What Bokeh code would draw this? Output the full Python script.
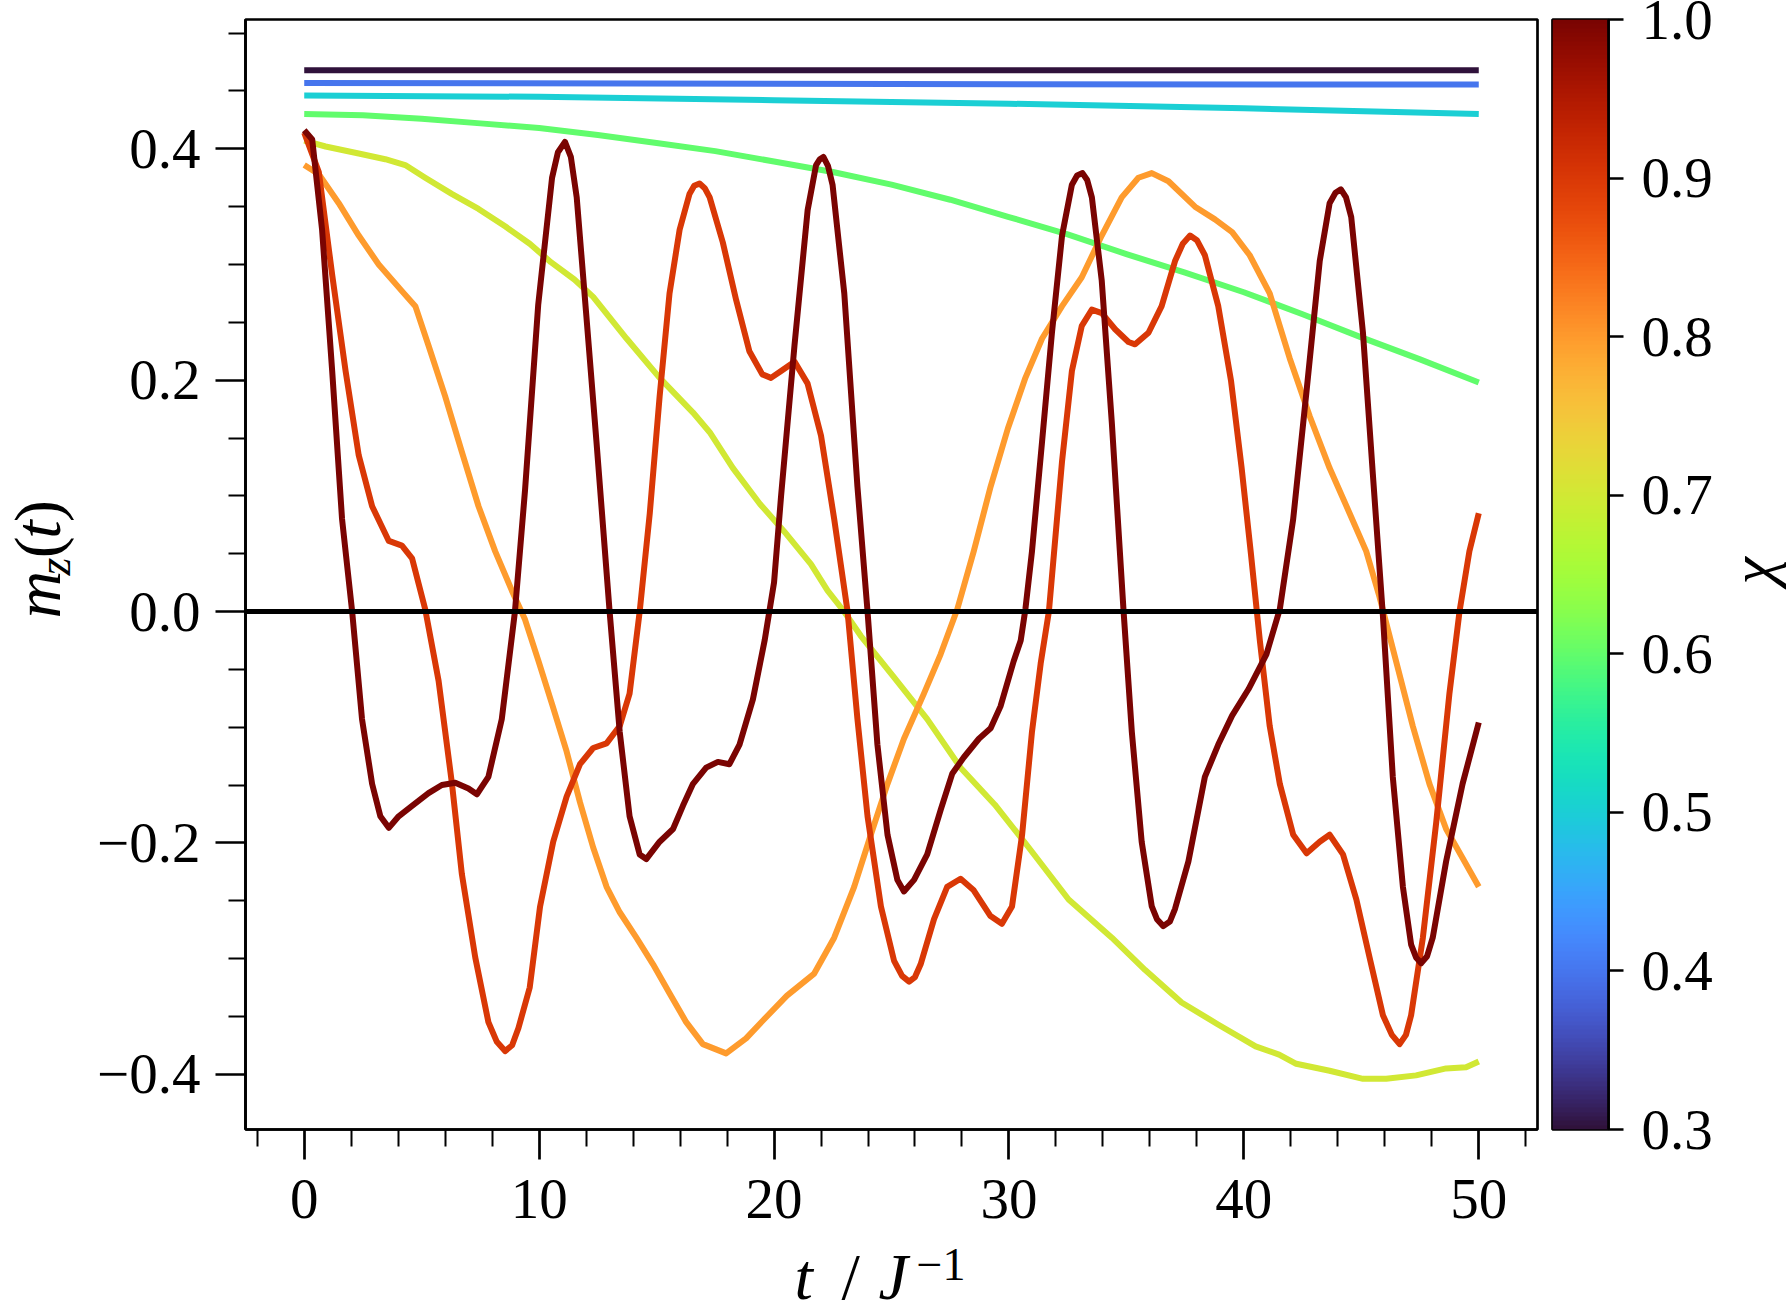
import math
import numpy as np
from bokeh.plotting import figure
from bokeh.layouts import row, column
from bokeh.models import (ColumnDataSource, LinearColorMapper, FixedTicker,
                          PrintfTickFormatter, Span, Range1d)
from bokeh.core.properties import value
from bokeh.palettes import Turbo256
from bokeh.embed import file_html
from bokeh.resources import INLINE

# ---------------- data ----------------
CHI = [0.3, 0.4, 0.5, 0.6, 0.7, 0.8, 0.9, 1.0]

T_03 = [0, 50]
M_03 = [0.468, 0.468]

T_04 = [0, 25, 50]
M_04 = [0.457, 0.456, 0.4555]

T_05 = [0, 10, 20, 30, 40, 50]
M_05 = [0.446, 0.445, 0.442, 0.439, 0.435, 0.430]

T_06 = [0, 2.5, 5, 7.5, 10, 12.5, 15, 17.5, 20, 22.5, 25, 27.5, 30, 32.5, 35,
        37.5, 40, 42.5, 45, 47.5, 50]
M_06 = [0.430, 0.429, 0.426, 0.422, 0.418, 0.412, 0.405, 0.398, 0.389, 0.380,
        0.369, 0.356, 0.341, 0.326, 0.309, 0.293, 0.276, 0.257, 0.237, 0.218, 0.198]

T_07 = [0, 0.91, 2.32, 3.45, 4.3, 5.15, 6.28, 7.42, 8.55, 9.6, 10.5, 11.5, 12.3,
        13.72, 15.13, 16.55, 17.26, 18.25, 19.4, 20.44, 21.57, 22.28, 22.98, 23.69,
        25.11, 26.52, 27.94, 29.4, 30.84, 32.54, 34.38, 35.8, 37.35, 38.9, 40.5,
        41.5, 42.23, 43.65, 45.07, 46.06, 47.33, 48.61, 49.46, 50.0]
M_07 = [0.407, 0.402, 0.396, 0.391, 0.386, 0.375, 0.361, 0.348, 0.333, 0.318,
        0.302, 0.287, 0.272, 0.236, 0.202, 0.172, 0.155, 0.124, 0.093, 0.069,
        0.041, 0.018, 0.0, -0.021, -0.057, -0.093, -0.135, -0.167, -0.204, -0.249,
        -0.282, -0.310, -0.338, -0.357, -0.376, -0.383, -0.391, -0.397, -0.404,
        -0.404, -0.401, -0.395, -0.394, -0.389]

T_08 = [0, 0.62, 1.47, 2.32, 3.17, 4.16, 4.73, 5.29, 6.0, 6.71, 7.42, 8.13, 8.84,
        9.4, 9.96, 10.55, 11.17, 11.74, 12.3, 12.87, 13.43, 14.14, 14.85, 15.55,
        16.26, 16.97, 17.96, 18.81, 19.6, 20.55, 21.71, 22.56, 23.41, 24.12, 24.83,
        25.53, 26.38, 27.09, 27.8, 28.5, 29.22, 29.95, 30.7, 31.41, 32.26, 33.1,
        33.95, 34.8, 35.51, 36.08, 36.79, 37.92, 38.77, 39.5, 40.25, 41.1, 41.95,
        42.8, 43.65, 44.5, 45.21, 45.77, 46.48, 47.19, 47.9, 48.61, 49.31, 50.0]
M_08 = [0.386, 0.378, 0.353, 0.325, 0.300, 0.277, 0.264, 0.230, 0.186, 0.138,
        0.091, 0.052, 0.018, -0.007, -0.042, -0.080, -0.121, -0.165, -0.204,
        -0.238, -0.260, -0.282, -0.305, -0.330, -0.355, -0.374, -0.382, -0.369,
        -0.352, -0.332, -0.313, -0.282, -0.238, -0.193, -0.149, -0.110, -0.071,
        -0.037, 0.002, 0.052, 0.108, 0.158, 0.202, 0.236, 0.264, 0.289, 0.325,
        0.358, 0.375, 0.379, 0.372, 0.350, 0.339, 0.328, 0.308, 0.275, 0.219,
        0.169, 0.124, 0.085, 0.052, 0.013, -0.043, -0.099, -0.149, -0.188,
        -0.213, -0.238]

T_09 = [0, 0.62, 1.19, 1.76, 2.32, 2.89, 3.6, 4.16, 4.59, 5.15, 5.72, 6.29, 6.71,
        7.28, 7.84, 8.2, 8.55, 8.85, 9.12, 9.6, 10.04, 10.6, 11.17, 11.74, 12.3,
        12.87, 13.43, 13.85, 14.28, 14.71, 15.13, 15.55, 15.98, 16.4, 16.6, 16.83,
        17.05, 17.26, 17.82, 18.39, 18.95, 19.5, 19.87, 20.3, 20.87, 21.43, 22.0,
        22.56, 23.13, 23.55, 23.98, 24.55, 25.11, 25.45, 25.75, 26.0, 26.24, 26.81,
        27.37, 27.94, 28.5, 29.2, 29.7, 30.13, 30.56, 30.98, 31.35, 31.7, 32.26,
        32.68, 33.1, 33.53, 33.95, 34.52, 35.09, 35.37, 35.94, 36.5, 37.07, 37.4,
        37.71, 38.0, 38.34, 38.91, 39.45, 39.9, 40.3, 40.68, 41.1, 41.53, 42.1,
        42.67, 43.23, 43.65, 44.22, 44.79, 45.35, 45.92, 46.3, 46.63, 46.9, 47.12,
        47.62, 48.19, 48.75, 49.18, 49.6, 50.0]
M_09 = [0.414, 0.380, 0.291, 0.208, 0.135, 0.091, 0.061, 0.057, 0.046, 0.002,
        -0.060, -0.149, -0.227, -0.299, -0.355, -0.372, -0.380, -0.375, -0.360,
        -0.325, -0.255, -0.199, -0.160, -0.132, -0.118, -0.114, -0.099, -0.071,
        0.0, 0.085, 0.186, 0.275, 0.330, 0.361, 0.368, 0.370, 0.366, 0.358, 0.319,
        0.269, 0.225, 0.205, 0.202, 0.208, 0.216, 0.197, 0.152, 0.080, 0.0, -0.093,
        -0.177, -0.255, -0.302, -0.315, -0.320, -0.316, -0.305, -0.266, -0.238,
        -0.231, -0.241, -0.263, -0.270, -0.255, -0.193, -0.104, -0.045, 0.0, 0.130,
        0.208, 0.247, 0.261, 0.258, 0.244, 0.233, 0.231, 0.241, 0.264, 0.303,
        0.318, 0.325, 0.321, 0.308, 0.264, 0.200, 0.125, 0.050, -0.025, -0.099,
        -0.149, -0.193, -0.209, -0.199, -0.193, -0.210, -0.249, -0.299, -0.349,
        -0.366, -0.374, -0.366, -0.349, -0.282, -0.182, -0.071, 0.0, 0.052, 0.085]

T_10 = [0, 0.34, 0.76, 1.19, 1.61, 2.04, 2.46, 2.89, 3.24, 3.6, 4.02, 4.59, 5.29,
        5.86, 6.43, 6.99, 7.35, 7.84, 8.41, 8.97, 9.4, 9.96, 10.55, 10.8, 11.1,
        11.35, 11.6, 12.0, 12.44, 13.0, 13.43, 13.85, 14.28, 14.56, 15.13, 15.7,
        16.12, 16.55, 17.11, 17.61, 18.1, 18.53, 19.1, 19.6, 20.0, 20.3, 20.87,
        21.43, 21.79, 21.95, 22.1, 22.3, 22.49, 22.99, 23.55, 23.98, 24.4, 24.83,
        25.25, 25.53, 25.96, 26.52, 27.1, 27.59, 28.08, 28.72, 29.22, 29.64, 30.2,
        30.5, 30.7, 30.98, 31.41, 31.83, 32.26, 32.68, 32.9, 33.13, 33.33, 33.53,
        33.95, 34.38, 34.88, 35.23, 35.65, 36.08, 36.3, 36.57, 36.85, 37.07, 37.64,
        38.34, 38.91, 39.5, 40.2, 40.96, 41.53, 42.1, 42.67, 43.23, 43.65, 43.9,
        44.13, 44.35, 44.57, 45.07, 45.49, 45.92, 46.34, 46.77, 47.12, 47.33, 47.55,
        47.8, 48.04, 48.61, 49.31, 50.0]
M_10 = [0.416, 0.408, 0.330, 0.208, 0.080, 0.0, -0.093, -0.149, -0.177, -0.187,
        -0.177, -0.168, -0.157, -0.150, -0.148, -0.153, -0.158, -0.143, -0.093, 0.0,
        0.105, 0.265, 0.375, 0.397, 0.406, 0.393, 0.358, 0.258, 0.147, 0.0, -0.104,
        -0.177, -0.210, -0.214, -0.199, -0.188, -0.168, -0.149, -0.135, -0.130,
        -0.132, -0.115, -0.076, -0.025, 0.025, 0.100, 0.230, 0.347, 0.386, 0.391,
        0.393, 0.385, 0.369, 0.275, 0.108, 0.0, -0.115, -0.193, -0.232, -0.242,
        -0.232, -0.210, -0.171, -0.140, -0.126, -0.110, -0.101, -0.082, -0.043,
        -0.025, 0.002, 0.052, 0.147, 0.241, 0.325, 0.369, 0.377, 0.379, 0.373,
        0.358, 0.286, 0.163, 0.0, -0.104, -0.199, -0.255, -0.266, -0.272, -0.268,
        -0.257, -0.216, -0.143, -0.115, -0.090, -0.067, -0.037, 0.002, 0.080, 0.191,
        0.303, 0.353, 0.362, 0.365, 0.358, 0.341, 0.241, 0.119, -0.004, -0.143,
        -0.238, -0.288, -0.299, -0.304, -0.298, -0.282, -0.216, -0.149, -0.096]

T_SERIES = [T_03, T_04, T_05, T_06, T_07, T_08, T_09, T_10]
M_SERIES = [M_03, M_04, M_05, M_06, M_07, M_08, M_09, M_10]

X_TICKS = [0, 10, 20, 30, 40, 50]
X_MINOR = [-2, 2, 4, 6, 8, 12, 14, 16, 18, 22, 24, 26, 28, 32, 34, 36, 38,
           42, 44, 46, 48, 52]
Y_TICKS = [-0.4, -0.2, 0.0, 0.2, 0.4]
Y_MINOR = [-0.35, -0.3, -0.25, -0.15, -0.1, -0.05, 0.05, 0.1, 0.15, 0.25, 0.3,
           0.35, 0.45, 0.5]
CB_TICKS = [0.3, 0.4, 0.5, 0.6, 0.7, 0.8, 0.9, 1.0]
CHI_LOW, CHI_HIGH = 0.3, 1.0

# ---------------- layout constants (canvas pixels) ----------------
FONT = "Liberation Serif"
W, H = 1787, 1313
TOP_H = 1238          # height of the upper row
LEFT_W = 80           # y-label strip
MAIN_W = 1460         # main plot (canvas x 80..1540)
CB_W = 175            # colour bar (canvas x 1540..1715)
RIGHT_W = W - LEFT_W - MAIN_W - CB_W   # chi label strip (1715..1787)


def bare(width, height, xr, yr):
    f = figure(width=width, height=height, x_range=xr, y_range=yr,
               output_backend="svg", toolbar_location=None,
               x_axis_location=None, y_axis_location=None,
               min_border=0)
    f.outline_line_color = None
    f.xgrid.visible = False
    f.ygrid.visible = False
    f.background_fill_color = "white"
    f.border_fill_color = "white"
    return f


def txt(f, x, y, s, size, italic=True, angle=0.0, align="left"):
    # anchor = vertical middle of the text line
    f.text(x=[x], y=[y], text=[s], angle=angle,
           text_font=value(FONT), text_font_size=value(size),
           text_font_style="italic" if italic else "normal",
           text_color="black", text_align=align, text_baseline="middle")


# ---------------- main plot ----------------
p = figure(width=MAIN_W, height=TOP_H,
           x_range=Range1d(-2.5, 52.5), y_range=Range1d(-0.4478, 0.5118),
           output_backend="svg", toolbar_location=None,
           min_border_left=165, min_border_right=3,
           min_border_top=19, min_border_bottom=TOP_H - 1129)
p.background_fill_color = "white"
p.border_fill_color = "white"
p.outline_line_color = "black"
p.outline_line_width = 2.7
p.xgrid.visible = False
p.ygrid.visible = False

mapper = LinearColorMapper(palette=Turbo256, low=CHI_LOW, high=CHI_HIGH)
src = ColumnDataSource(dict(xs=T_SERIES, ys=M_SERIES, chi=CHI))
p.multi_line("xs", "ys", source=src,
             line_color={"field": "chi", "transform": mapper}, line_width=6,
             line_join="round")

p.add_layout(Span(location=0, dimension="width", line_color="black", line_width=5))

for ax in (p.xaxis[0], p.yaxis[0]):
    ax.axis_line_color = "black"
    ax.axis_line_width = 2.7
    ax.major_tick_out = 30
    ax.major_tick_in = 0
    ax.minor_tick_out = 17
    ax.minor_tick_in = 0
    ax.major_tick_line_width = 2.7
    ax.minor_tick_line_width = 2
    ax.major_tick_line_color = "black"
    ax.minor_tick_line_color = "black"
    ax.major_label_text_font = FONT
    ax.major_label_text_font_size = "57px"
    ax.major_label_text_color = "black"

p.xaxis.ticker = FixedTicker(ticks=X_TICKS, minor_ticks=X_MINOR)
p.yaxis.ticker = FixedTicker(ticks=Y_TICKS, minor_ticks=Y_MINOR)
p.yaxis.formatter = PrintfTickFormatter(format="%.1f")
p.yaxis.major_label_overrides = {-0.4: "\u22120.4", -0.2: "\u22120.2"}
p.xaxis.major_label_standoff = 20
p.yaxis.major_label_standoff = 15

# ---------------- colour bar (its own small plot) ----------------
pc = figure(width=CB_W, height=TOP_H, x_range=Range1d(0, 1),
            y_range=Range1d(CHI_LOW, CHI_HIGH),
            output_backend="svg", toolbar_location=None,
            x_axis_location=None, y_axis_location="right",
            min_border_left=12, min_border_right=CB_W - 12 - 57,
            min_border_top=19, min_border_bottom=TOP_H - 1129)
pc.background_fill_color = "white"
pc.border_fill_color = "white"
pc.outline_line_color = "black"
pc.outline_line_width = 2.7
pc.xgrid.visible = False
pc.ygrid.visible = False
grad = np.linspace(CHI_LOW, CHI_HIGH, 256).reshape(-1, 1)
pc.image(image=[grad], x=0, y=CHI_LOW, dw=1, dh=CHI_HIGH - CHI_LOW,
         color_mapper=mapper)
cax = pc.yaxis[0]
cax.ticker = FixedTicker(ticks=CB_TICKS)
cax.formatter = PrintfTickFormatter(format="%.1f")
cax.axis_line_color = "black"
cax.axis_line_width = 2.7
cax.major_tick_out = 15
cax.major_tick_in = 0
cax.major_tick_line_width = 2.7
cax.major_tick_line_color = "black"
cax.minor_tick_line_color = None
cax.major_label_text_font = FONT
cax.major_label_text_font_size = "57px"
cax.major_label_text_color = "black"
cax.major_label_standoff = 18

# ---------------- axis-label strips (coordinates = canvas pixels) ----------------
R = math.pi / 2
pl = bare(LEFT_W, TOP_H, Range1d(0, LEFT_W), Range1d(TOP_H, 0))
txt(pl, 37, 668, "m", "66px", True, R)
txt(pl, 53.5, 620, "z", "46px", True, R)
txt(pl, 37, 601, "(", "66px", False, R)
txt(pl, 37, 579, "t", "66px", True, R)
txt(pl, 37, 560.5, ")", "66px", False, R)

x0r = LEFT_W + MAIN_W + CB_W
pr = bare(RIGHT_W, TOP_H, Range1d(x0r, W), Range1d(TOP_H, 0))
txt(pr, 1751, 615, "\u03c7", "62px", True, R, "center")

pb = bare(W, H - TOP_H, Range1d(0, W), Range1d(H, TOP_H))
txt(pb, 794, 1276, "t", "66px", True)
txt(pb, 841, 1276, "/", "66px", False)
txt(pb, 878, 1276, "J", "66px", True)
txt(pb, 916, 1264, "\u22121", "46px", False)

layout = column(row(pl, p, pc, pr, spacing=0), pb, spacing=0)

open("out.html", "w").write(file_html(layout, INLINE))
